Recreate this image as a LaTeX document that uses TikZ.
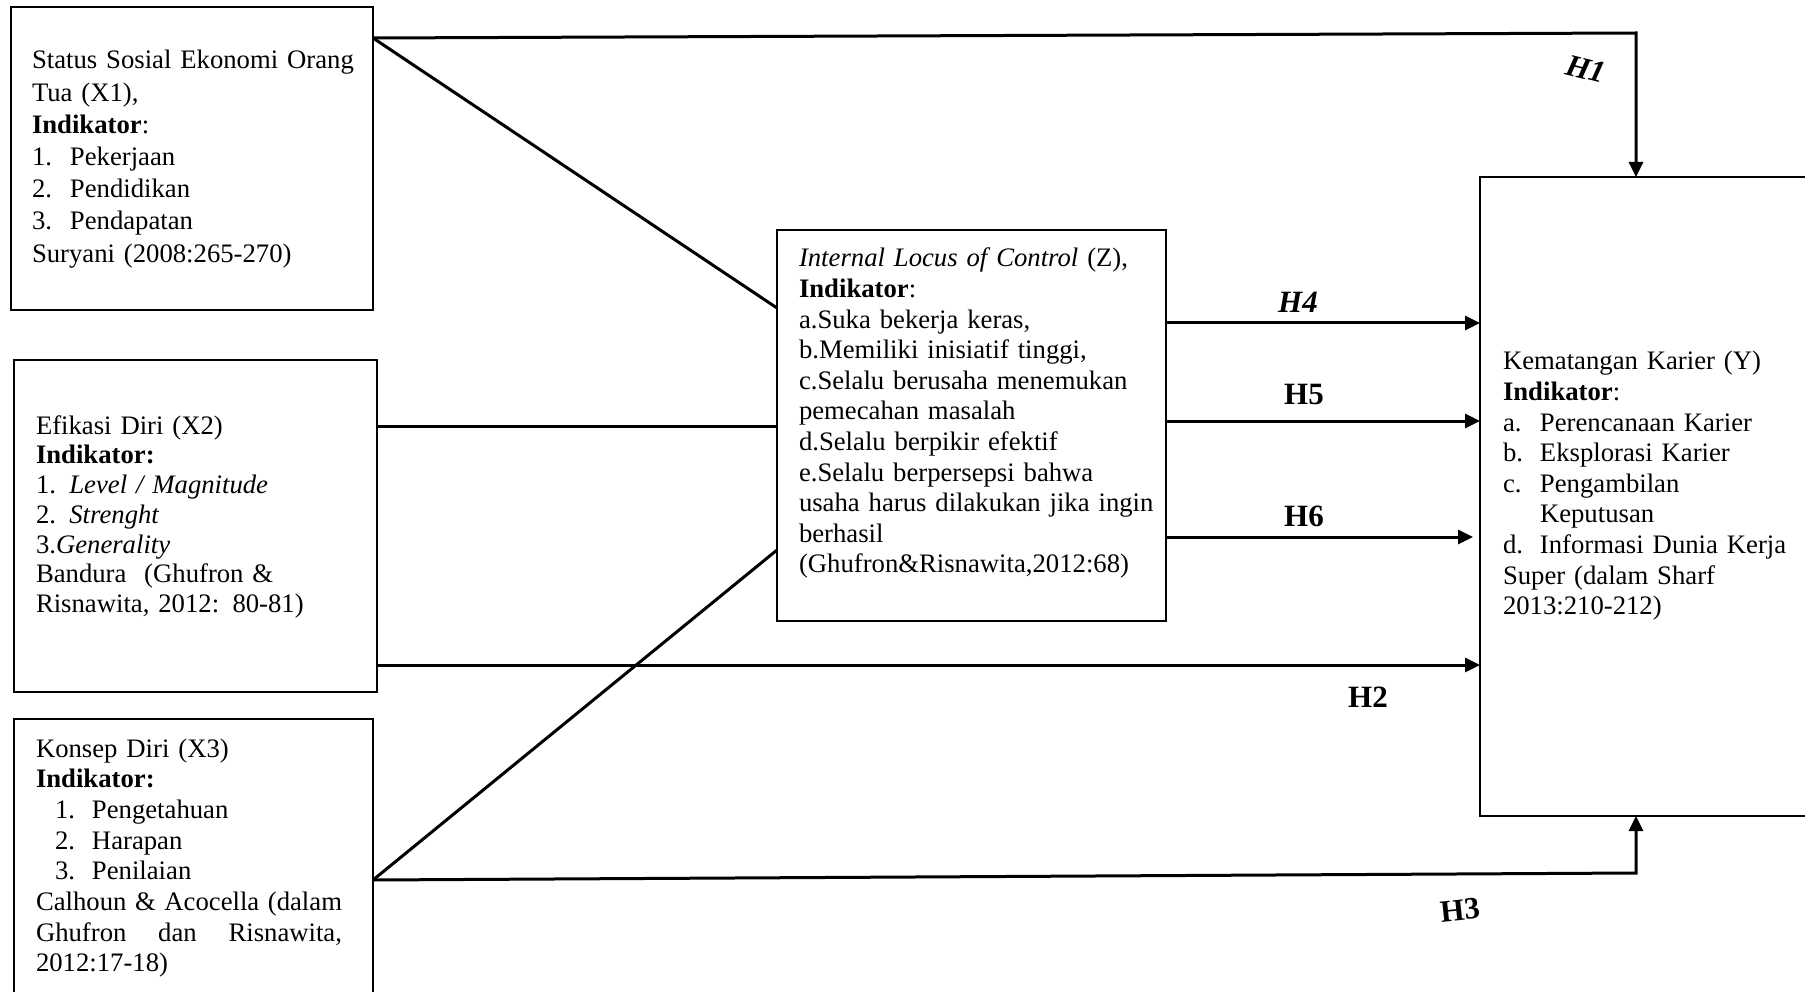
\documentclass[tikz,border=0pt]{standalone}
\usepackage{fontspec}
\setmainfont{Liberation Serif}
\usetikzlibrary{arrows.meta,calc}
\begin{document}
\begin{tikzpicture}[x=1pt,y=-1pt,
  box/.style={draw, line width=2.2pt, rectangle, inner sep=0pt, outer sep=0pt},
  txt/.style={inner sep=0pt, outer sep=0pt, anchor=base west, text width=#1},
  conn/.style={line width=3pt},
  arr/.style={line width=3pt, -{Triangle[length=15pt,width=14pt]}},
  hlab/.style={inner sep=0pt, font=\fontsize{31}{31}\selectfont\bfseries}]
\useasboundingbox (0,0) rectangle (1805,992);
\clip (0,0) rectangle (1805,992);

% boxes
\node[box, minimum width=362pt, minimum height=303pt] (x1) at (192,158.5) {};
\node[box, minimum width=363pt, minimum height=332pt] (x2) at (195.5,526) {};
\node[box, minimum width=359pt, minimum height=291pt] (x3) at (193.5,864.5) {};
\node[box, minimum width=389pt, minimum height=391pt] (z) at (971.5,425.5) {};
\node[box, minimum width=360pt, minimum height=639pt] (y) at (1660,496.5) {};

% texts
\node[txt=340pt, font=\fontsize{26.7}{32.2}\selectfont] (t1) at (32,69) {%
Status Sosial Ekonomi Orang\\
Tua (X1),\\
\textbf{Indikator}:\\
\makebox[38pt][l]{1.}Pekerjaan\\
\makebox[38pt][l]{2.}Pendidikan\\
\makebox[38pt][l]{3.}Pendapatan\\
Suryani (2008:265-270)};

\node[txt=340pt, font=\fontsize{26.7}{29.8}\selectfont] (t2) at (36,434) {%
Efikasi Diri (X2)\\
\textbf{Indikator:}\\
1. \textit{Level / Magnitude}\\
2. \textit{Strenght}\\
3.\textit{Generality}\\
Bandura\ \ (Ghufron \&\\
Risnawita, 2012: 80-81)};

\node[txt=340pt, font=\fontsize{26.7}{30.7}\selectfont] (t3) at (36,757) {%
Konsep Diri (X3)\\
\textbf{Indikator:}\\
\hspace*{19pt}\makebox[37pt][l]{1.}Pengetahuan\\
\hspace*{19pt}\makebox[37pt][l]{2.}Harapan\\
\hspace*{19pt}\makebox[37pt][l]{3.}Penilaian\\
\makebox[306pt][l]{Calhoun\hfill\&\hfill Acocella\hfill(dalam}\\
\makebox[306pt][l]{Ghufron\hfill dan\hfill Risnawita,}\\
2012:17-18)};

\node[txt=370pt, font=\fontsize{26.7}{30.6}\selectfont] (tz) at (799,267) {%
\textit{Internal Locus of Control} (Z),\\
\textbf{Indikator}:\\
a.Suka bekerja keras,\\
b.Memiliki inisiatif tinggi,\\
c.Selalu berusaha menemukan\\
pemecahan masalah\\
d.Selalu berpikir efektif\\
e.Selalu berpersepsi bahwa\\
usaha harus dilakukan jika ingin\\
berhasil\\
(Ghufron\&Risnawita,2012:68)};

\node[txt=300pt, font=\fontsize{26.7}{30.6}\selectfont] (ty) at (1503,370) {%
Kematangan Karier (Y)\\
\textbf{Indikator}:\\
\makebox[37pt][l]{a.}Perencanaan Karier\\
\makebox[37pt][l]{b.}Eksplorasi Karier\\
\makebox[37pt][l]{c.}Pengambilan\\
\hspace*{37pt}Keputusan\\
\makebox[37pt][l]{d.}Informasi Dunia Kerja\\
Super (dalam Sharf\\
2013:210-212)};

% connectors
\draw[arr] ($(x1.north east)+(0,31)$) -- ($(y.north west)+(156,-144)$) -- ($(y.north west)+(156,0)$);
\draw[conn] ($(x1.north east)+(0,31)$) -- ($(z.north west)+(0,78)$);
\draw[conn] ($(x2.north east)+(0,66)$) -- ($(z.north west)+(0,196)$);
\draw[arr] ($(x2.north east)+(0,305)$) -- ($(y.north west)+(0,488)$);
\draw[conn] ($(x3.north east)+(0,161)$) -- ($(z.north west)+(0,320)$);
\draw[arr] ($(x3.north east)+(0,161)$) -- ($(y.south west)+(156,57)$) -- ($(y.south west)+(156,0)$);
\draw[arr] ($(z.north east)+(0,93)$) -- ($(y.north west)+(0,146)$);
\draw[arr] ($(z.north east)+(0,191)$) -- ($(y.north west)+(0,244)$);
\draw[arr] ($(z.north east)+(0,307)$) -- ($(y.north west)+(-7,360)$);

% labels
\node[hlab, font=\fontsize{31}{31}\selectfont\bfseries\itshape, rotate=-14] (h1) at (1586,69) {H1};
\node[hlab, font=\fontsize{31}{31}\selectfont\bfseries\itshape] (h4) at (1298,302) {H4};
\node[hlab] (h5) at (1304,395) {H5};
\node[hlab] (h6) at (1304,516) {H6};
\node[hlab] (h2) at (1368,697) {H2};
\node[hlab, rotate=6] (h3) at (1460,910) {H3};
\end{tikzpicture}
\end{document}
